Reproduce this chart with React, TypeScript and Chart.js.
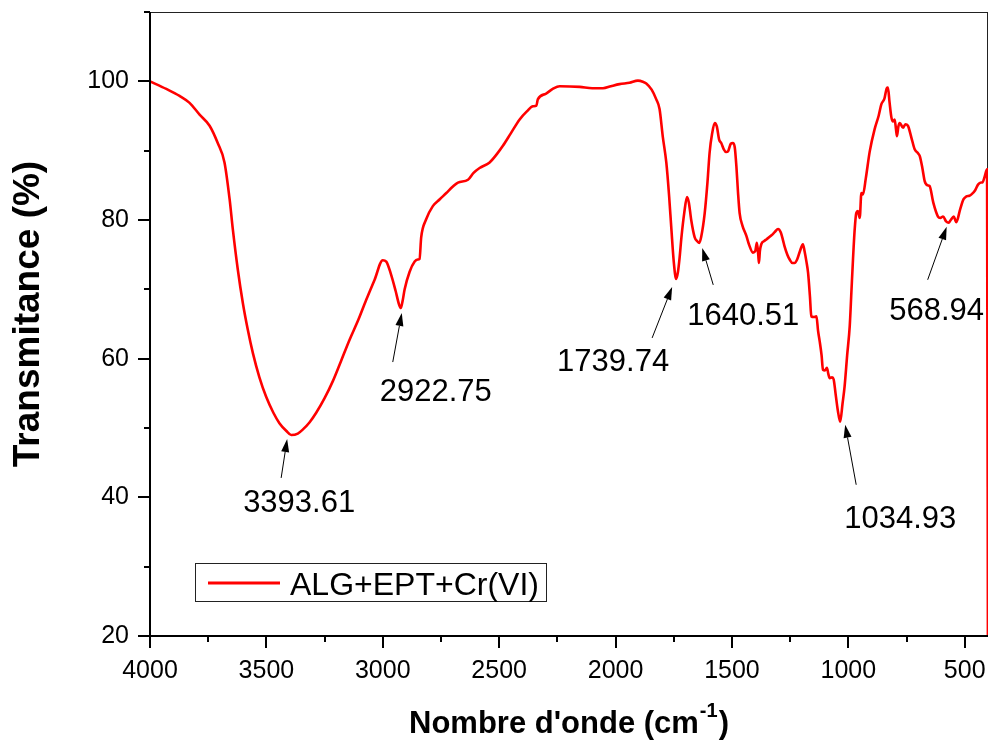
import React, { useEffect, useRef } from "react";
import { Chart, registerables } from "chart.js";

Chart.register(...registerables);

// FTIR spectrum (wavenumber in cm-1, transmittance in %)
const wavenumber = [
  4000, 3930, 3873, 3830, 3787, 3744, 3709, 3680, 3658, 3644, 3623, 3601, 3580, 3558, 3530, 3501,
  3470, 3444, 3415, 3393.61, 3365, 3343, 3315, 3286, 3250, 3214, 3180, 3143, 3105, 3071, 3035, 3000,
  2985, 2965, 2945, 2930, 2922.75, 2915, 2906, 2885, 2863, 2850, 2842, 2835, 2815, 2785, 2755, 2727,
  2700, 2677, 2634, 2610, 2584, 2541, 2510, 2484, 2450, 2412, 2380, 2355, 2340, 2334, 2300, 2270,
  2240, 2154, 2100, 2054, 2020, 1983, 1940, 1904, 1880, 1868, 1845, 1825, 1811, 1797, 1782, 1770,
  1760, 1750, 1739.74, 1732, 1725, 1717, 1705, 1693, 1685, 1675, 1660, 1648, 1640.51, 1632, 1617, 1605,
  1596, 1585, 1574, 1565, 1555, 1546, 1535, 1525, 1517, 1505, 1496, 1488, 1481, 1474, 1467, 1455,
  1438, 1425, 1410, 1400, 1393, 1387, 1384, 1380, 1374, 1360, 1352, 1330, 1315, 1302, 1290, 1280,
  1274, 1262, 1252, 1240, 1231, 1220, 1208, 1195, 1188, 1180, 1173, 1165, 1159, 1148, 1137, 1130,
  1123, 1115, 1109, 1100, 1092, 1086, 1080, 1070, 1063, 1055, 1045, 1034.93, 1025, 1016, 1005, 994,
  987, 980, 973, 966, 959, 951, 944, 937, 925, 908, 887, 870, 858, 845, 835, 830,
  823, 815, 808, 801, 795, 791, 785, 779, 765, 755, 744, 730, 715, 700, 693, 682,
  672, 660, 651, 635, 615, 605, 593, 580, 568.94, 560, 547, 541, 536, 520, 505, 493,
  480, 471, 455, 443, 430, 424, 414, 404, 400,
];

const transmittance = [
  100.0, 98.9, 97.9, 96.9, 95.2, 93.6, 91.1, 88.3, 83.0, 78.6, 72.9, 68.0, 64.2, 60.8, 57.3, 54.5,
  52.2, 50.7, 49.6, 49.0, 49.2, 49.8, 50.8, 52.2, 54.3, 56.8, 59.6, 62.7, 65.6, 68.5, 71.4, 74.2,
  74.0, 72.2, 69.8, 67.8, 67.3, 68.3, 70.0, 72.5, 74.0, 74.3, 74.4, 77.5, 80.0, 82.0, 83.0, 83.9,
  84.8, 85.4, 85.8, 86.8, 87.5, 88.3, 89.5, 90.7, 92.5, 94.5, 95.7, 96.4, 96.5, 97.4, 98.2, 98.9,
  99.3, 99.2, 99.0, 99.0, 99.3, 99.6, 99.8, 100.1, 99.9, 99.7, 98.8, 97.4, 96.0, 92.0, 88.3, 83.5,
  78.6, 74.0, 71.5, 72.5, 74.5, 77.5, 81.0, 83.3, 82.5, 80.0, 77.5, 76.9, 76.7, 77.6, 81.0, 85.5,
  89.7, 92.5, 94.0, 93.5, 91.6, 91.1, 90.2, 89.8, 89.9, 91.0, 91.1, 90.5, 87.8, 84.0, 81.0, 79.2,
  77.7, 76.3, 75.3, 75.5, 76.7, 75.0, 73.8, 75.5, 76.5, 77.0, 77.2, 77.8, 78.3, 78.7, 78.2, 77.0,
  76.2, 75.0, 74.3, 73.8, 73.8, 74.3, 75.5, 76.5, 75.5, 74.0, 72.4, 69.0, 66.1, 66.0, 66.1, 64.0,
  62.5, 60.5, 58.4, 58.3, 58.7, 57.8, 57.2, 57.3, 57.0, 55.0, 52.5, 50.9, 53.5, 56.0, 60.5, 64.7,
  69.5, 74.3, 78.5, 81.0, 81.3, 80.3, 83.9, 83.7, 86.0, 89.9, 93.1, 95.0, 96.7, 97.5, 99.0, 99.1,
  97.0, 94.8, 94.2, 94.5, 93.0, 92.1, 93.5, 94.0, 93.3, 93.8, 93.6, 92.0, 90.2, 89.6, 89.2, 87.5,
  85.6, 85.0, 84.9, 82.5, 80.5, 80.3, 80.5, 79.8, 79.6, 80.0, 80.5, 80.0, 79.7, 81.5, 83.0, 83.4,
  83.5, 83.7, 84.3, 85.1, 85.4, 85.4, 86.3, 87.3, 10.0,
];

const xTicks = [4000, 3500, 3000, 2500, 2000, 1500, 1000, 500];
const xMinorTicks = [3750, 3250, 2750, 2250, 1750, 1250, 750];
const yTicks = [20, 40, 60, 80, 100];
const yMinorTicks = [30, 50, 70, 90, 110];

const seriesName = "ALG+EPT+Cr(VI)";
const xTitle = "Nombre d'onde (cm";
const xTitleSup = "-1";
const yTitle = "Transmitance (%)";

// Marked band positions (cm-1)
const peakLabels = [3393.61, 2922.75, 1739.74, 1640.51, 1034.93, 568.94];

// Pixel offsets of arrow tip, arrow tail and label anchor, relative to each band
const arrowTipOffset = [[-4, 4], [1, 5], [-4, 8], [3, 5], [5, 3], [-2, 4]];
const arrowTailOffset = [[-10, 43], [-8, 54], [-24, 59], [14, 42], [16, 63], [-21, 57]];
const labelOffset = [[8, 77], [35, 93], [-63, 92], [44, 82], [60, 106], [-12, 97]];

const FONT = '"Liberation Sans", Arial, Helvetica, sans-serif';
const RED = "#ff0000";

function drawArrow(ctx: CanvasRenderingContext2D, x0: number, y0: number, x1: number, y1: number) {
  const ang = Math.atan2(y1 - y0, x1 - x0);
  const headLen = 13;
  const headHalf = 4;
  const bx = x1 - headLen * Math.cos(ang);
  const by = y1 - headLen * Math.sin(ang);
  ctx.strokeStyle = "#000";
  ctx.lineWidth = 1;
  ctx.beginPath();
  ctx.moveTo(x0, y0);
  ctx.lineTo(bx, by);
  ctx.stroke();
  ctx.fillStyle = "#000";
  ctx.beginPath();
  ctx.moveTo(x1, y1);
  ctx.lineTo(bx + headHalf * Math.sin(ang), by - headHalf * Math.cos(ang));
  ctx.lineTo(bx - headHalf * Math.sin(ang), by + headHalf * Math.cos(ang));
  ctx.closePath();
  ctx.fill();
}

const framePlugin = {
  id: "frame",
  beforeDatasetsDraw(chart: any) {
    const { ctx, chartArea: a } = chart;
    ctx.save();
    ctx.strokeStyle = "#222";
    ctx.lineWidth = 1;
    ctx.beginPath();
    ctx.moveTo(a.left, a.top + 0.5);
    ctx.lineTo(a.right, a.top + 0.5);
    ctx.moveTo(a.right - 0.5, a.top);
    ctx.lineTo(a.right - 0.5, a.bottom);
    ctx.stroke();
    ctx.restore();
  },
  afterDatasetsDraw(chart: any) {
    const { ctx, chartArea: a, scales } = chart;
    const xs = scales.x;
    const ys = scales.y;
    ctx.save();

    // axis lines
    ctx.strokeStyle = "#000";
    ctx.lineWidth = 2;
    ctx.beginPath();
    ctx.moveTo(a.left, a.top);
    ctx.lineTo(a.left, a.bottom + 1);
    ctx.moveTo(a.left - 1, a.bottom);
    ctx.lineTo(a.right, a.bottom);
    ctx.stroke();

    // tick marks (outward)
    ctx.beginPath();
    for (const v of xTicks) {
      const px = Math.round(xs.getPixelForValue(v));
      ctx.moveTo(px, a.bottom);
      ctx.lineTo(px, a.bottom + 12);
    }
    for (const v of xMinorTicks) {
      const px = Math.round(xs.getPixelForValue(v));
      ctx.moveTo(px, a.bottom);
      ctx.lineTo(px, a.bottom + 6);
    }
    for (const v of yTicks) {
      const py = Math.round(ys.getPixelForValue(v));
      ctx.moveTo(a.left, py);
      ctx.lineTo(a.left - 12, py);
    }
    for (const v of yMinorTicks) {
      const py = Math.round(ys.getPixelForValue(v));
      ctx.moveTo(a.left, py);
      ctx.lineTo(a.left - 6, py);
    }
    ctx.stroke();

    // tick labels
    ctx.fillStyle = "#000";
    ctx.font = `25px ${FONT}`;
    ctx.textAlign = "center";
    ctx.textBaseline = "alphabetic";
    for (const v of xTicks) {
      ctx.fillText(String(v), xs.getPixelForValue(v), a.bottom + 42);
    }
    ctx.textAlign = "right";
    ctx.textBaseline = "middle";
    for (const v of yTicks) {
      ctx.fillText(String(v), a.left - 21, ys.getPixelForValue(v));
    }

    // x title with superscript
    ctx.textBaseline = "alphabetic";
    ctx.textAlign = "left";
    const mainFont = `bold 31px ${FONT}`;
    const supFont = `bold 20px ${FONT}`;
    ctx.font = mainFont;
    const wMain = ctx.measureText(xTitle).width;
    const wClose = ctx.measureText(")").width;
    ctx.font = supFont;
    const wSup = ctx.measureText(xTitleSup).width;
    const total = wMain + wSup + wClose + 2;
    const cx = (a.left + a.right) / 2;
    let tx = cx - total / 2;
    const base = 733;
    ctx.font = mainFont;
    ctx.fillText(xTitle, tx, base);
    tx += wMain + 1;
    ctx.font = supFont;
    ctx.fillText(xTitleSup, tx, base - 16);
    tx += wSup + 1;
    ctx.font = mainFont;
    ctx.fillText(")", tx, base);

    // y title
    ctx.save();
    ctx.translate(39, 314);
    ctx.rotate(-Math.PI / 2);
    ctx.textAlign = "center";
    ctx.font = `bold 37px ${FONT}`;
    ctx.fillText(yTitle, 0, 0);
    ctx.restore();

    // band annotations
    peakLabels.forEach((wn, i) => {
      const idx = wavenumber.indexOf(wn);
      const px = xs.getPixelForValue(wn);
      const py = ys.getPixelForValue(transmittance[idx]);
      const tip = [px + arrowTipOffset[i][0], py + arrowTipOffset[i][1]];
      const tail = [px + arrowTailOffset[i][0], py + arrowTailOffset[i][1]];
      drawArrow(ctx, tail[0], tail[1], tip[0], tip[1]);
      ctx.fillStyle = "#000";
      ctx.font = `31px ${FONT}`;
      ctx.textAlign = "center";
      ctx.textBaseline = "alphabetic";
      ctx.fillText(wn.toFixed(2), px + labelOffset[i][0], py + labelOffset[i][1]);
    });

    // legend box
    const lx = 195.5, ly = 563.5, lw = 351, lh = 38;
    ctx.strokeStyle = "#222";
    ctx.lineWidth = 1;
    ctx.strokeRect(lx, ly, lw, lh);
    ctx.strokeStyle = RED;
    ctx.lineWidth = 3;
    ctx.beginPath();
    ctx.moveTo(208, 583);
    ctx.lineTo(280, 583);
    ctx.stroke();
    ctx.fillStyle = "#000";
    ctx.font = `32px ${FONT}`;
    ctx.textAlign = "left";
    ctx.textBaseline = "alphabetic";
    ctx.fillText(seriesName, 290, 595);

    ctx.restore();
  },
};

export default function App() {
  const canvasRef = useRef<HTMLCanvasElement | null>(null);

  useEffect(() => {
    const canvas = canvasRef.current;
    if (!canvas) return;
    const points = wavenumber.map((x, i) => ({ x, y: transmittance[i] }));
    const chart = new Chart(canvas, {
      type: "line",
      data: {
        datasets: [
          {
            label: seriesName,
            data: points,
            borderColor: RED,
            borderWidth: 2.6,
            pointRadius: 0,
            fill: false,
            cubicInterpolationMode: "monotone",
          },
        ],
      },
      options: {
        responsive: false,
        animation: false,
        parsing: false,
        layout: { padding: { left: 150, top: 12, right: 4, bottom: 109 } },
        plugins: {
          legend: { display: false },
          tooltip: { enabled: false },
        },
        scales: {
          x: { type: "linear", reverse: true, min: 400, max: 4000, display: false },
          y: { type: "linear", min: 20, max: 110, display: false },
        },
      },
      plugins: [framePlugin],
    } as any);
    return () => chart.destroy();
  }, []);

  return (
    <div style={{ position: "absolute", left: 0, top: 0, width: 992, height: 745, background: "#fff" }}>
      <canvas ref={canvasRef} width={992} height={745} style={{ display: "block" }} />
    </div>
  );
}
